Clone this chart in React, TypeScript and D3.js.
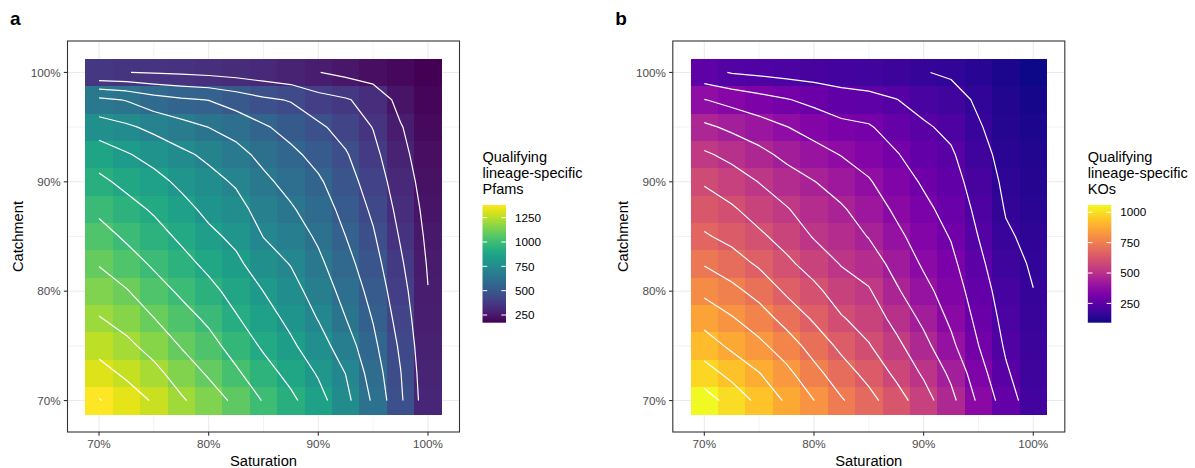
import React from "react";
import * as d3 from "d3";

const saturation = [70, 72.5, 75, 77.5, 80, 82.5, 85, 87.5, 90, 92.5, 95, 97.5, 100];
const catchment = [70, 72.5, 75, 77.5, 80, 82.5, 85, 87.5, 90, 92.5, 95, 97.5, 100];

// rows: catchment 70% -> 100%; columns: saturation 70% -> 100%
const pfamCounts = [
  [1380, 1330, 1278, 1206, 1145, 1082, 1002, 935, 856, 756, 622, 464, 300],
  [1317, 1272, 1220, 1152, 1090, 1022, 951, 887, 813, 727, 594, 453, 292],
  [1259, 1215, 1161, 1096, 1040, 971, 902, 838, 768, 682, 565, 435, 283],
  [1199, 1160, 1103, 1044, 991, 923, 862, 798, 725, 637, 538, 413, 274],
  [1146, 1107, 1047, 993, 942, 882, 821, 762, 690, 605, 512, 392, 266],
  [1096, 1049, 995, 946, 893, 841, 774, 725, 656, 574, 486, 370, 257],
  [1045, 994, 950, 899, 843, 801, 727, 685, 622, 543, 460, 349, 247],
  [989, 946, 904, 852, 799, 761, 692, 646, 589, 515, 434, 329, 237],
  [934, 893, 852, 803, 759, 718, 656, 605, 556, 487, 408, 309, 226],
  [875, 830, 790, 748, 710, 665, 611, 563, 514, 458, 381, 289, 214],
  [773, 744, 707, 669, 635, 602, 554, 511, 466, 415, 354, 270, 201],
  [657, 631, 583, 556, 541, 503, 465, 444, 390, 365, 325, 235, 188],
  [362, 358, 352, 344, 334, 322, 306, 288, 266, 242, 218, 195, 171],
];

const koCounts = [
  [1060, 997, 936, 872, 811, 745, 689, 626, 554, 470, 366, 270, 192],
  [983, 934, 884, 828, 760, 697, 644, 579, 512, 436, 337, 243, 185],
  [918, 868, 827, 774, 709, 650, 599, 540, 472, 394, 307, 225, 177],
  [856, 816, 771, 713, 657, 600, 563, 500, 434, 365, 288, 211, 170],
  [795, 758, 714, 655, 612, 558, 529, 460, 399, 344, 270, 198, 163],
  [733, 698, 656, 609, 564, 518, 488, 426, 369, 323, 251, 184, 155],
  [674, 646, 607, 567, 517, 488, 447, 395, 345, 302, 233, 170, 147],
  [630, 603, 563, 527, 485, 458, 416, 366, 322, 282, 217, 158, 139],
  [587, 556, 520, 482, 452, 419, 384, 339, 298, 263, 201, 149, 131],
  [532, 503, 469, 433, 404, 375, 349, 311, 271, 243, 185, 140, 122],
  [464, 436, 410, 380, 351, 325, 313, 275, 244, 217, 168, 131, 113],
  [380, 355, 331, 310, 288, 265, 256, 236, 207, 188, 152, 122, 103],
  [255, 230, 220, 211, 203, 195, 186, 176, 165, 153, 135, 113, 91],
];

const pfamContourLevels = [264, 357, 450, 543, 636, 729, 822, 915, 1008, 1101, 1194, 1287, 1375];
const koContourLevels = [162, 234, 306, 378, 450, 522, 594, 666, 738, 810, 882, 954, 1026];

const axisBreaks = [70, 80, 90, 100];
const minorBreaks = [75, 85, 95];
const pfamLegendBreaks = [250, 500, 750, 1000, 1250];
const koLegendBreaks = [250, 500, 750, 1000];

type Pt = [number, number];

function isolines(grid: number[][], xs: number[], ys: number[], level: number): Pt[][] {
  const pts = new Map<string, Pt>();
  const adj = new Map<string, string[]>();
  const link = (a: string, b: string) => {
    if (!adj.has(a)) adj.set(a, []);
    if (!adj.has(b)) adj.set(b, []);
    adj.get(a)!.push(b);
    adj.get(b)!.push(a);
  };
  for (let j = 0; j < ys.length - 1; j++) {
    for (let i = 0; i < xs.length - 1; i++) {
      const v00 = grid[j][i], v10 = grid[j][i + 1], v01 = grid[j + 1][i], v11 = grid[j + 1][i + 1];
      const cr: string[] = [];
      const check = (key: string, va: number, vb: number, xa: number, ya: number, xb: number, yb: number) => {
        if ((va >= level) !== (vb >= level)) {
          const t = (level - va) / (vb - va);
          pts.set(key, [xa + t * (xb - xa), ya + t * (yb - ya)]);
          cr.push(key);
        } else cr.push("");
      };
      check(`h${i},${j}`, v00, v10, xs[i], ys[j], xs[i + 1], ys[j]);
      check(`v${i + 1},${j}`, v10, v11, xs[i + 1], ys[j], xs[i + 1], ys[j + 1]);
      check(`h${i},${j + 1}`, v11, v01, xs[i + 1], ys[j + 1], xs[i], ys[j + 1]);
      check(`v${i},${j}`, v01, v00, xs[i], ys[j + 1], xs[i], ys[j]);
      const [b, r, t, l] = cr;
      const present = cr.filter(Boolean);
      if (present.length === 2) link(present[0], present[1]);
      else if (present.length === 4) {
        const c = (v00 + v10 + v01 + v11) / 4;
        if ((v00 >= level) === (c >= level)) { link(b, r); link(t, l); }
        else { link(b, l); link(r, t); }
      }
    }
  }
  const visited = new Set<string>();
  const lines: Pt[][] = [];
  const walk = (start: string) => {
    const line: Pt[] = [pts.get(start)!];
    visited.add(start);
    let cur = start;
    while (true) {
      const next = adj.get(cur)!.find((n) => !visited.has(n));
      if (!next) break;
      visited.add(next);
      line.push(pts.get(next)!);
      cur = next;
    }
    lines.push(line);
  };
  for (const [k, nb] of adj) if (nb.length === 1 && !visited.has(k)) walk(k);
  for (const k of adj.keys()) if (!visited.has(k)) walk(k);
  return lines;
}

const FONT = "'Liberation Sans', Arial, Helvetica, sans-serif";

function Panel(props: {
  left: number;
  counts: number[][];
  levels: number[];
  interp: (t: number) => string;
  tag: string;
  legendTitle: string[];
  legendBreaks: number[];
  gradId: string;
}) {
  const { left, counts, levels, interp, tag, legendTitle, legendBreaks, gradId } = props;
  const top = 41, width = 392, height = 391;
  const halfX = (saturation[1] - saturation[0]) / 2;
  const halfY = (catchment[1] - catchment[0]) / 2;
  const xlo = saturation[0] - halfX, xhi = saturation[saturation.length - 1] + halfX;
  const ylo = catchment[0] - halfY, yhi = catchment[catchment.length - 1] + halfY;
  const xpad = (xhi - xlo) * 0.05, ypad = (yhi - ylo) * 0.05;
  const x = d3.scaleLinear().domain([xlo - xpad, xhi + xpad]).range([left, left + width]);
  const y = d3.scaleLinear().domain([ylo - ypad, yhi + ypad]).range([top + height, top]);
  const flat = counts.flat();
  const vmin = d3.min(flat)!, vmax = d3.max(flat)!;
  const color = d3.scaleSequential(interp).domain([vmin, vmax]);
  const lines = levels.flatMap((lv) => isolines(counts, saturation, catchment, lv));
  const lineGen = d3.line<Pt>().x((d) => x(d[0])).y((d) => y(d[1]));
  const legendX = left + width + 23;
  const barW = 23.5, barTop = 205, barBottom = 322.7;
  const ly = d3.scaleLinear().domain([vmin, vmax]).range([barBottom, barTop]);
  const stops = d3.range(0, 1.0001, 0.05);
  const bottom = top + height;

  return (
    <g>
      <defs>
        <linearGradient id={gradId} x1="0" y1="1" x2="0" y2="0">
          {stops.map((s) => (
            <stop key={s} offset={s} stopColor={interp(s)} />
          ))}
        </linearGradient>
      </defs>
      {/* grid */}
      {minorBreaks.map((b) => (
        <g key={"mn" + b}>
          <line x1={x(b)} x2={x(b)} y1={top} y2={bottom} stroke="#EBEBEB" strokeWidth={0.6} />
          <line x1={left} x2={left + width} y1={y(b)} y2={y(b)} stroke="#EBEBEB" strokeWidth={0.6} />
        </g>
      ))}
      {axisBreaks.map((b) => (
        <g key={"mj" + b}>
          <line x1={x(b)} x2={x(b)} y1={top} y2={bottom} stroke="#EBEBEB" strokeWidth={1.1} />
          <line x1={left} x2={left + width} y1={y(b)} y2={y(b)} stroke="#EBEBEB" strokeWidth={1.1} />
        </g>
      ))}
      {/* tiles */}
      <g shapeRendering="crispEdges">
        {counts.map((row, j) =>
          row.map((v, i) => (
            <rect
              key={`${i}-${j}`}
              x={x(saturation[i] - halfX)}
              y={y(catchment[j] + halfY)}
              width={x(saturation[i] + halfX) - x(saturation[i] - halfX) + 0.3}
              height={y(catchment[j] - halfY) - y(catchment[j] + halfY) + 0.3}
              fill={color(v)}
            />
          ))
        )}
      </g>
      {/* contours */}
      <g fill="none" stroke="#FFFFFF" strokeWidth={1.2} strokeLinejoin="round">
        {lines.map((ln, k) => (
          <path key={k} d={lineGen(ln) || ""} />
        ))}
      </g>
      {/* border */}
      <rect x={left} y={top} width={width} height={height} fill="none" stroke="#333333" strokeWidth={1.1} />
      {/* ticks */}
      {axisBreaks.map((b) => (
        <g key={"t" + b}>
          <line x1={x(b)} x2={x(b)} y1={bottom} y2={bottom + 3.7} stroke="#333333" strokeWidth={1.1} />
          <text x={x(b)} y={bottom + 15.5} textAnchor="middle" fontSize={11.7} fill="#4D4D4D" fontFamily={FONT}>
            {b}%
          </text>
          <line x1={left - 3.7} x2={left} y1={y(b)} y2={y(b)} stroke="#333333" strokeWidth={1.1} />
          <text x={left - 6.8} y={y(b)} dy="0.36em" textAnchor="end" fontSize={11.7} fill="#4D4D4D" fontFamily={FONT}>
            {b}%
          </text>
        </g>
      ))}
      <text x={left + width / 2} y={465.5} textAnchor="middle" fontSize={14.7} fill="#000" fontFamily={FONT}>
        Saturation
      </text>
      <text
        transform={`translate(${left - 44.5},${top + height / 2}) rotate(-90)`}
        textAnchor="middle"
        fontSize={14.7}
        fill="#000"
        fontFamily={FONT}
      >
        Catchment
      </text>
      <text x={left - 57.5} y={25} fontSize={19} fontWeight="bold" fill="#000" fontFamily={FONT}>
        {tag}
      </text>
      {/* legend */}
      {legendTitle.map((t, k) => (
        <text key={t} x={legendX} y={162 + k * 16} fontSize={14.5} fill="#000" fontFamily={FONT}>
          {t}
        </text>
      ))}
      <rect x={legendX} y={barTop} width={barW} height={barBottom - barTop} fill={`url(#${gradId})`} />
      {legendBreaks.map((b) => (
        <g key={"lb" + b}>
          <line x1={legendX} x2={legendX + barW / 5} y1={ly(b)} y2={ly(b)} stroke="#FFFFFF" strokeWidth={1} />
          <line x1={legendX + barW - barW / 5} x2={legendX + barW} y1={ly(b)} y2={ly(b)} stroke="#FFFFFF" strokeWidth={1} />
          <text x={legendX + barW + 9} y={ly(b)} dy="0.36em" fontSize={11.7} fill="#000" fontFamily={FONT}>
            {b}
          </text>
        </g>
      ))}
    </g>
  );
}

export default function App() {
  return (
    <svg
      width={1195}
      height={468}
      style={{ position: "absolute", left: 0, top: 0, background: "#FFFFFF" }}
      fontFamily={FONT}
    >
      <rect x={0} y={0} width={1195} height={468} fill="#FFFFFF" />
      <Panel
        left={67.5}
        counts={pfamCounts}
        levels={pfamContourLevels}
        interp={d3.interpolateViridis}
        tag="a"
        legendTitle={["Qualifying", "lineage-specific", "Pfams"]}
        legendBreaks={pfamLegendBreaks}
        gradId="gradA"
      />
      <Panel
        left={672.8}
        counts={koCounts}
        levels={koContourLevels}
        interp={d3.interpolatePlasma}
        tag="b"
        legendTitle={["Qualifying", "lineage-specific", "KOs"]}
        legendBreaks={koLegendBreaks}
        gradId="gradB"
      />
    </svg>
  );
}
